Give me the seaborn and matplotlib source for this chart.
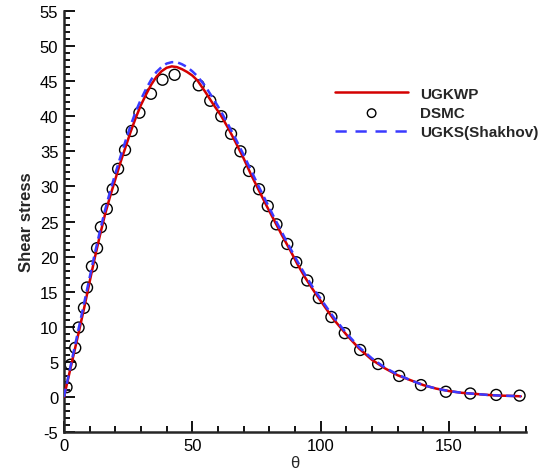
import numpy as np
import pandas as pd
import matplotlib
matplotlib.use("Agg")
import matplotlib.pyplot as plt
from matplotlib.ticker import MultipleLocator
import seaborn as sns

# UGKWP (red solid)
ugkwp_theta = [0, 2, 4, 6, 8, 10, 12, 14, 16, 18, 20, 22, 24, 26, 28, 30, 32, 34, 36, 38,
               40, 42, 44, 46, 48, 50, 52, 55, 58, 61, 64, 67, 70, 73, 76, 79, 82, 85, 88,
               91, 94, 97, 100, 105, 110, 115, 120, 125, 130, 135, 140, 145, 150, 155, 160,
               165, 170, 175, 178]
ugkwp_tau = [0.0, 3.2, 6.4, 9.6, 12.9, 16.4, 19.8, 23.0, 26.0, 28.6, 31.0, 33.4, 35.6, 37.8,
             39.8, 41.6, 43.1, 44.5, 45.6, 46.4, 46.9, 47.1, 47.0, 46.7, 46.3, 45.8, 45.1,
             43.5, 41.8, 40.2, 38.3, 36.2, 34.0, 31.6, 29.4, 27.2, 25.1, 23.0, 21.0, 18.9,
             17.0, 15.3, 13.7, 11.1, 8.9, 6.9, 5.3, 4.1, 3.1, 2.4, 1.7, 1.2, 0.85, 0.6, 0.45,
             0.3, 0.2, 0.15, 0.1]

# UGKS(Shakhov) (blue dashed)
ugks_theta = ugkwp_theta
ugks_tau = [0.0, 3.4, 6.8, 10.2, 13.6, 17.0, 20.4, 23.6, 26.6, 29.3, 31.8, 34.2, 36.5, 38.7,
            40.7, 42.4, 43.9, 45.2, 46.3, 47.0, 47.5, 47.7, 47.7, 47.4, 47.0, 46.4, 45.7,
            44.3, 42.6, 40.8, 38.8, 36.7, 34.5, 32.2, 29.9, 27.7, 25.5, 23.4, 21.3, 19.3,
            17.4, 15.6, 14.0, 11.4, 9.1, 7.1, 5.5, 4.2, 3.2, 2.4, 1.7, 1.2, 0.85, 0.6, 0.45,
            0.3, 0.2, 0.15, 0.1]

# DSMC (open circles)
dsmc_theta = [1.0, 2.6, 4.4, 5.7, 7.8, 9.0, 10.9, 12.9, 14.4, 16.7, 19.0, 21.1, 23.8, 26.4,
              29.4, 33.9, 38.4, 43.1, 52.5, 57.0, 61.3, 65.1, 68.75, 72.1, 76.0, 79.4, 82.8,
              87.0, 90.5, 94.8, 99.3, 104.2, 109.4, 115.4, 122.4, 130.6, 139.1, 148.8, 158.3,
              168.4, 177.5]
dsmc_tau = [1.4, 4.6, 7.0, 9.9, 12.7, 15.6, 18.6, 21.2, 24.2, 26.8, 29.6, 32.5, 35.2, 37.9,
            40.5, 43.2, 45.2, 45.9, 44.4, 42.2, 40.0, 37.5, 35.0, 32.2, 29.6, 27.2, 24.6,
            21.8, 19.2, 16.6, 14.1, 11.4, 9.1, 6.7, 4.7, 3.0, 1.7, 0.75, 0.5, 0.3, 0.2]

sns.set_style("ticks")
plt.rcParams['font.family'] = ['Liberation Sans', 'DejaVu Sans']
plt.rcParams['axes.unicode_minus'] = False

fig = plt.figure(figsize=(5.56, 4.77), dpi=100)
ax = fig.add_axes([0.115, 0.092, 0.831, 0.883])

sns.lineplot(x=ugkwp_theta, y=ugkwp_tau, ax=ax, color="#d40000", linewidth=1.8,
             label="UGKWP", zorder=3)
sns.scatterplot(x=dsmc_theta, y=dsmc_tau, ax=ax, marker="o", s=62, facecolor="none",
                edgecolor="black", linewidth=1.0, label="DSMC", zorder=2)
sns.lineplot(x=ugks_theta, y=ugks_tau, ax=ax, color="#3a3aff", linewidth=1.8,
             label="UGKS(Shakhov)", zorder=4)
ax.lines[-1].set_dashes([3.4, 2.0])

ax.set_xlim(0, 180)
ax.set_ylim(-5, 55)
ax.xaxis.set_major_locator(MultipleLocator(50))
ax.xaxis.set_minor_locator(MultipleLocator(10))
ax.yaxis.set_major_locator(MultipleLocator(5))
ax.yaxis.set_minor_locator(MultipleLocator(1))
ax.tick_params(which="both", direction="in", width=1.3, labelsize=12, colors="black")
ax.tick_params(which="major", length=8, pad=4)
ax.tick_params(which="minor", length=4.5)
for s in ["left", "bottom"]:
    ax.spines[s].set_linewidth(1.8)
sns.despine(ax=ax)

ax.set_xlabel("θ", fontsize=12, labelpad=2)
ax.set_ylabel("Shear stress", fontsize=12, fontweight="bold", labelpad=4)

leg = ax.legend(loc="upper left", bbox_to_anchor=(0.57, 0.838), frameon=False,
                handlelength=4.8, handletextpad=0.8, labelspacing=0.35, borderpad=0,
                prop={"weight": "bold", "size": 11})
for h in leg.legend_handles:
    try:
        h.set_sizes([38])
    except AttributeError:
        pass
leg.legend_handles[-1].set_dashes([4.5, 3.5])

fig.savefig("out.png", dpi=100)
